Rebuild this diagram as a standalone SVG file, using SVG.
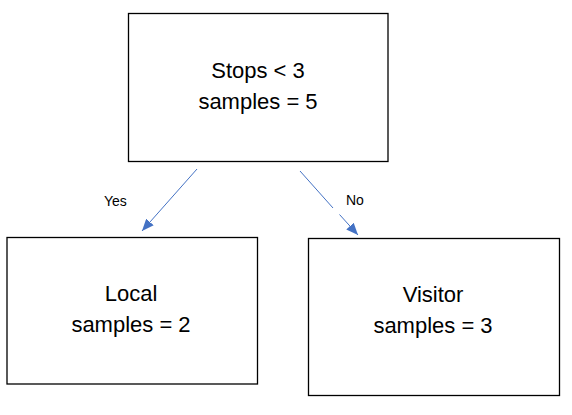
<svg xmlns="http://www.w3.org/2000/svg" width="572" height="415" viewBox="0 0 572 415">
  <style>
    .box { fill: #ffffff; stroke: #000000; stroke-width: 1.3; }
    .t { font-family: "Liberation Sans", Arial, sans-serif; font-size: 22px; fill: #000000; text-anchor: middle; }
    .lbl { font-family: "Liberation Sans", Arial, sans-serif; font-size: 14px; fill: #000000; }
    .conn { fill: none; stroke: #4472C4; stroke-width: 1; }
  </style>
  <defs>
    <marker id="arrow" viewBox="0 0 12 10" refX="12" refY="5" markerWidth="12" markerHeight="10" markerUnits="userSpaceOnUse" orient="auto">
      <path d="M0,0 L12,5 L0,10 Z" fill="#4472C4"/>
    </marker>
  </defs>
  <rect width="572" height="415" fill="#ffffff"/>
  <g id="root">
    <rect class="box" x="128.5" y="13.5" width="259.5" height="148"/>
    <text class="t" x="258" y="78">Stops &lt; 3</text>
    <text class="t" x="258" y="109">samples = 5</text>
  </g>
  <g id="local">
    <rect class="box" x="7" y="237.5" width="250.5" height="146.5"/>
    <text class="t" x="131" y="301">Local</text>
    <text class="t" x="131" y="332">samples = 2</text>
  </g>
  <g id="visitor">
    <rect class="box" x="308.5" y="238.5" width="251" height="157"/>
    <text class="t" x="433" y="302">Visitor</text>
    <text class="t" x="433" y="333">samples = 3</text>
  </g>
  <g id="connectors">
    <path class="conn" d="M197,169 L142,231" marker-end="url(#arrow)"/>
    <path class="conn" d="M300,171 L333,208 M339.5,214.5 L358,235" marker-end="url(#arrow)"/>
    <text class="lbl" x="104" y="205.5">Yes</text>
    <text class="lbl" x="346" y="205">No</text>
  </g>
</svg>
